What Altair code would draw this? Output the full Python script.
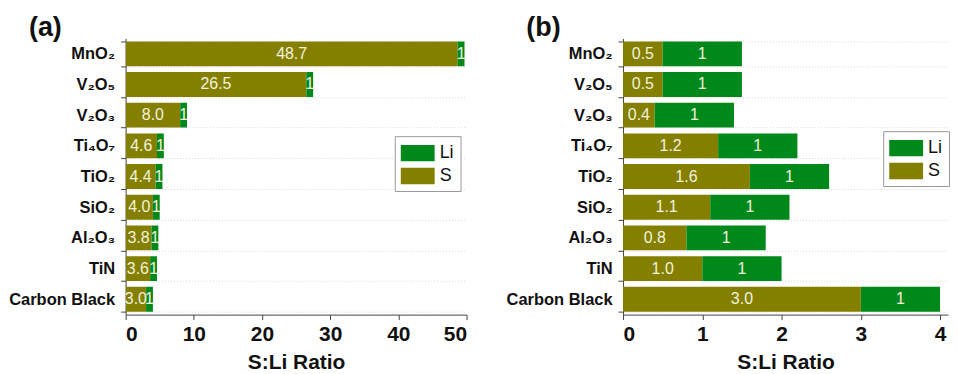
import altair as alt
import pandas as pd

categories = ["MnO₂", "V₂O₅", "V₂O₃", "Ti₄O₇", "TiO₂", "SiO₂", "Al₂O₃", "TiN", "Carbon Black"]
s_a = [48.7, 26.5, 8.0, 4.6, 4.4, 4.0, 3.8, 3.6, 3.0]
s_b = [0.5, 0.5, 0.4, 1.2, 1.6, 1.1, 0.8, 1.0, 3.0]
li = [1, 1, 1, 1, 1, 1, 1, 1, 1]
ticks_a = [0, 10, 20, 30, 40, 50]
ticks_b = [0, 1, 2, 3, 4]

OLIVE = "#857f00"
GREEN = "#00881a"
FONT = "Liberation Sans"


def panel(svals, letter, domain, ticks, width, legend_x, legend_y):
    df = pd.DataFrame({"cat": categories, "S": svals, "Li": li})
    base = alt.Chart(df).transform_fold(["S", "Li"], as_=["series", "value"]).transform_calculate(
        x0="datum.series == 'S' ? 0 : datum.S",
        x1="datum.series == 'S' ? datum.S : datum.S + datum.Li",
        mid="datum.series == 'S' ? datum.S / 2 : datum.S + datum.Li / 2",
        label="datum.series == 'S' ? format(datum.S, '.1f') : format(datum.Li, 'd')",
    )
    y = alt.Y(
        "cat:N",
        sort=categories,
        title=None,
        scale=alt.Scale(paddingInner=0.19, paddingOuter=0.095),
        axis=alt.Axis(
            tickBand="extent",
            labelFont=FONT,
            labelFontSize=16.5,
            labelFontWeight="bold",
            labelColor="#111",
            domainColor="#444",
            tickColor="#444",
            tickSize=5,
            labelPadding=6,
            grid=True,
            gridColor="#d8d8d8",
            gridDash=[1, 2],
        ),
    )
    x = alt.X(
        "x0:Q",
        title="S:Li Ratio",
        scale=alt.Scale(domain=domain, nice=False, zero=True),
        axis=alt.Axis(
            values=ticks,
            format="d",
            grid=False,
            labelFont=FONT,
            labelFontSize=21,
            labelFontWeight="bold",
            labelColor="#111",
            titleFont=FONT,
            titleFontSize=21,
            titleFontWeight="bold",
            titleColor="#111",
            domainColor="#444",
            tickColor="#444",
            tickSize=5,
            labelPadding=4,
            titlePadding=7,
        ),
    )
    bars = base.mark_bar(clip=True).encode(
        y=y,
        x=x,
        x2="x1:Q",
        color=alt.Color(
            "series:N",
            scale=alt.Scale(domain=["Li", "S"], range=[GREEN, OLIVE]),
            legend=alt.Legend(
                title=None,
                orient="none",
                legendX=legend_x,
                legendY=legend_y,
                labelFont=FONT,
                labelFontSize=18,
                labelColor="#111",
                symbolType="M-1,-0.75L2.1,-0.75L2.1,0.75L-1,0.75Z",
                symbolSize=480,
                symbolStrokeWidth=0,
                symbolOpacity=1,
                rowPadding=3,
                labelOffset=17,
                strokeColor="#999",
                padding=6,
                fillColor="white",
            ),
        ),
    )
    labels = base.mark_text(font=FONT, fontSize=16, color="#f2f2dc", clip=False).encode(
        y=alt.Y("cat:N", sort=categories),
        x=alt.X("mid:Q"),
        text="label:N",
    )
    return alt.layer(bars, labels).properties(
        width=width,
        height=277,
        title=alt.TitleParams(
            letter,
            anchor="start",
            frame="group",
            font=FONT,
            fontSize=27,
            fontWeight="bold",
            color="#111",
            dx=-97,
            offset=-12,
        ),
    )


pa = panel(s_a, "(a)", [0, 50], ticks_a, 342, 270, 98)
pb = panel(s_b, "(b)", [0, 4.1], ticks_b, 326, 261, 93)

chart = (
    alt.hconcat(pa, pb, spacing=38)
    .resolve_legend(color="independent")
    .resolve_scale(x="independent")
    .properties(padding={"top": 6, "left": 0, "right": 0, "bottom": 0})
    .configure_view(stroke=None)
)

chart.save("out.html", embed_options={"renderer": "svg", "actions": False})
